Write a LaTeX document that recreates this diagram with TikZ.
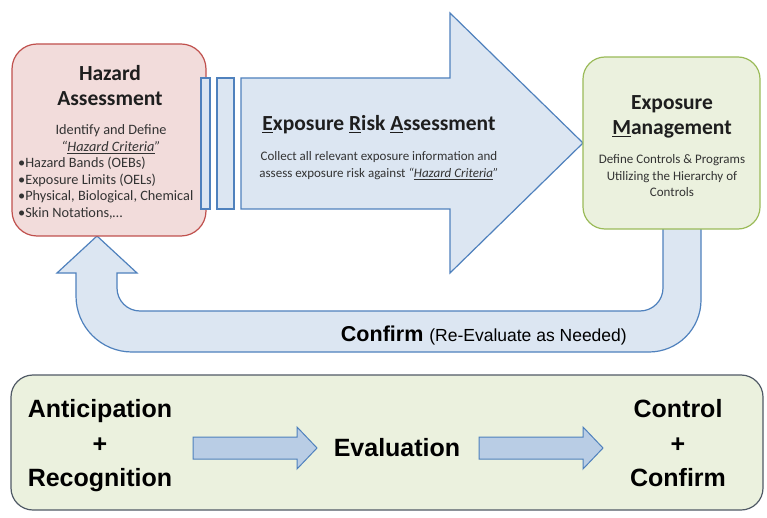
\documentclass[tikz,border=0pt]{standalone}
\usepackage{fontspec}
\setmainfont{Carlito}
\newfontfamily\arialf{Liberation Sans}
\definecolor{hzfill}{HTML}{F2DCDB}
\definecolor{hzline}{HTML}{C0504D}
\definecolor{arfill}{HTML}{DCE6F2}
\definecolor{arline}{HTML}{4F81BD}
\definecolor{gnfill}{HTML}{EBF1DE}
\definecolor{gnline}{HTML}{9BBB59}
\definecolor{btline}{HTML}{505A66}
\definecolor{smfill}{HTML}{B9CDE5}
\definecolor{txt}{HTML}{1E1E1E}
\definecolor{bodytxt}{HTML}{333333}
\begin{document}
\begin{tikzpicture}[x=1pt,y=-1pt,
  blockarrow/.style={draw=arline,fill=arfill,line width=1.2pt,line join=miter},
  smallarrow/.style={draw=arline,fill=smfill,line width=1pt},
  hzbox/.style={draw=hzline,fill=hzfill,line width=1.2pt,rounded corners=25pt,inner sep=0pt},
  gnbox/.style={draw=gnline,fill=gnfill,line width=1.2pt,rounded corners=22pt,inner sep=0pt},
  btbox/.style={draw=btline,fill=gnfill,line width=1.2pt,rounded corners=22pt,inner sep=0pt},
  head/.style={font=\fontsize{21.5}{25}\selectfont\bfseries,text=txt,inner sep=0pt,anchor=base},
  body/.style={font=\fontsize{13}{16}\selectfont,text=bodytxt,inner sep=0pt,anchor=base},
  hzbody/.style={font=\fontsize{14.3}{16}\selectfont,text=bodytxt,inner sep=0pt,anchor=base},
  big/.style={font=\arialf\fontsize{25}{30}\selectfont\bfseries,text=black,inner sep=0pt,anchor=base},
]
\useasboundingbox (0,0) rectangle (767,518);
\fill[white] (0,0) rectangle (767,518);

% return arrow (behind boxes)
\draw[blockarrow] (701,225) -- (701,300) arc(0:90:52) -- (132,352) arc(90:180:56)
  -- (76,273) -- (57,273) -- (97,236) -- (137,273) -- (117,273) -- (117,288)
  arc(180:90:23) -- (640,311) arc(90:0:23) -- (663,225) -- cycle;
\node[anchor=base east,inner sep=0pt] (confirm) at (627,341)
  {\arialf\fontsize{21.5}{24}\selectfont\bfseries Confirm \fontsize{17.5}{20}\mdseries(Re-Evaluate as Needed)};

% big arrow
\draw[blockarrow] (241,78) -- (450,78) -- (450,13) -- (583,143) -- (450,273) -- (450,209) -- (241,209) -- cycle;

% hazard box
\node[hzbox,minimum width=194pt,minimum height=192pt] (hazard) at (109,140) {};
\node[head] (hz1) at (110,81) {Hazard};
\node[head] (hz2) at (110,106) {Assessment};
\node[hzbody] (hz3) at (111,135) {Identify and Define};
\node[hzbody] (hz4) at (111,151.5) {\textit{“\underline{Hazard Criteria}”}};
\node[hzbody,anchor=base west] (hz5) at (18,168) {•Hazard Bands (OEBs)};
\node[hzbody,anchor=base west] (hz6) at (18,184.5) {•Exposure Limits (OELs)};
\node[hzbody,anchor=base west] (hz7) at (18,201) {•Physical, Biological, Chemical};
\node[hzbody,anchor=base west] (hz8) at (18,217.5) {•Skin Notations,…};

% bars (drawn over the hazard box edge)
\draw[blockarrow] (201,78) rectangle (210,209);
\draw[blockarrow] (217,78) rectangle (234,209);

% exposure risk assessment text
\node[head] (era) at (379,131) {\underline{E}xposure \underline{R}isk \underline{A}ssessment};
\node[body] (era1) at (379,161) {Collect all relevant exposure information and};
\node[body] (era2) at (379,178) {assess exposure risk against \textit{“\underline{Hazard Criteria}”}};

% exposure management box
\node[gnbox,minimum width=177pt,minimum height=172pt] (mgmt) at (671.5,143) {};
\node[head] (em1) at (672,110) {Exposure};
\node[head] (em2) at (672,135) {\underline{M}anagement};
\node[body] (em3) at (672,164) {Define Controls \& Programs};
\node[body] (em4) at (672,180.5) {Utilizing the Hierarchy of};
\node[body] (em5) at (672,197) {Controls};

% bottom box
\node[btbox,minimum width=752pt,minimum height=135pt] (bottom) at (387,442.5) {};
\node[big] (ant) at (100,417) {Anticipation};
\node[big] (plus1) at (100,452) {+};
\node[big] (rec) at (100,486) {Recognition};
\node[big] (eval) at (397,456) {Evaluation};
\node[big] (ctl) at (678,417) {Control};
\node[big] (plus2) at (678,452) {+};
\node[big] (cnf) at (678,486) {Confirm};

\draw[smallarrow] (193,437) -- (297,437) -- (297,427) -- (317,448) -- (297,469) -- (297,459) -- (193,459) -- cycle;
\draw[smallarrow] (479,437) -- (583,437) -- (583,427) -- (603,448) -- (583,469) -- (583,459) -- (479,459) -- cycle;
\end{tikzpicture}
\end{document}
